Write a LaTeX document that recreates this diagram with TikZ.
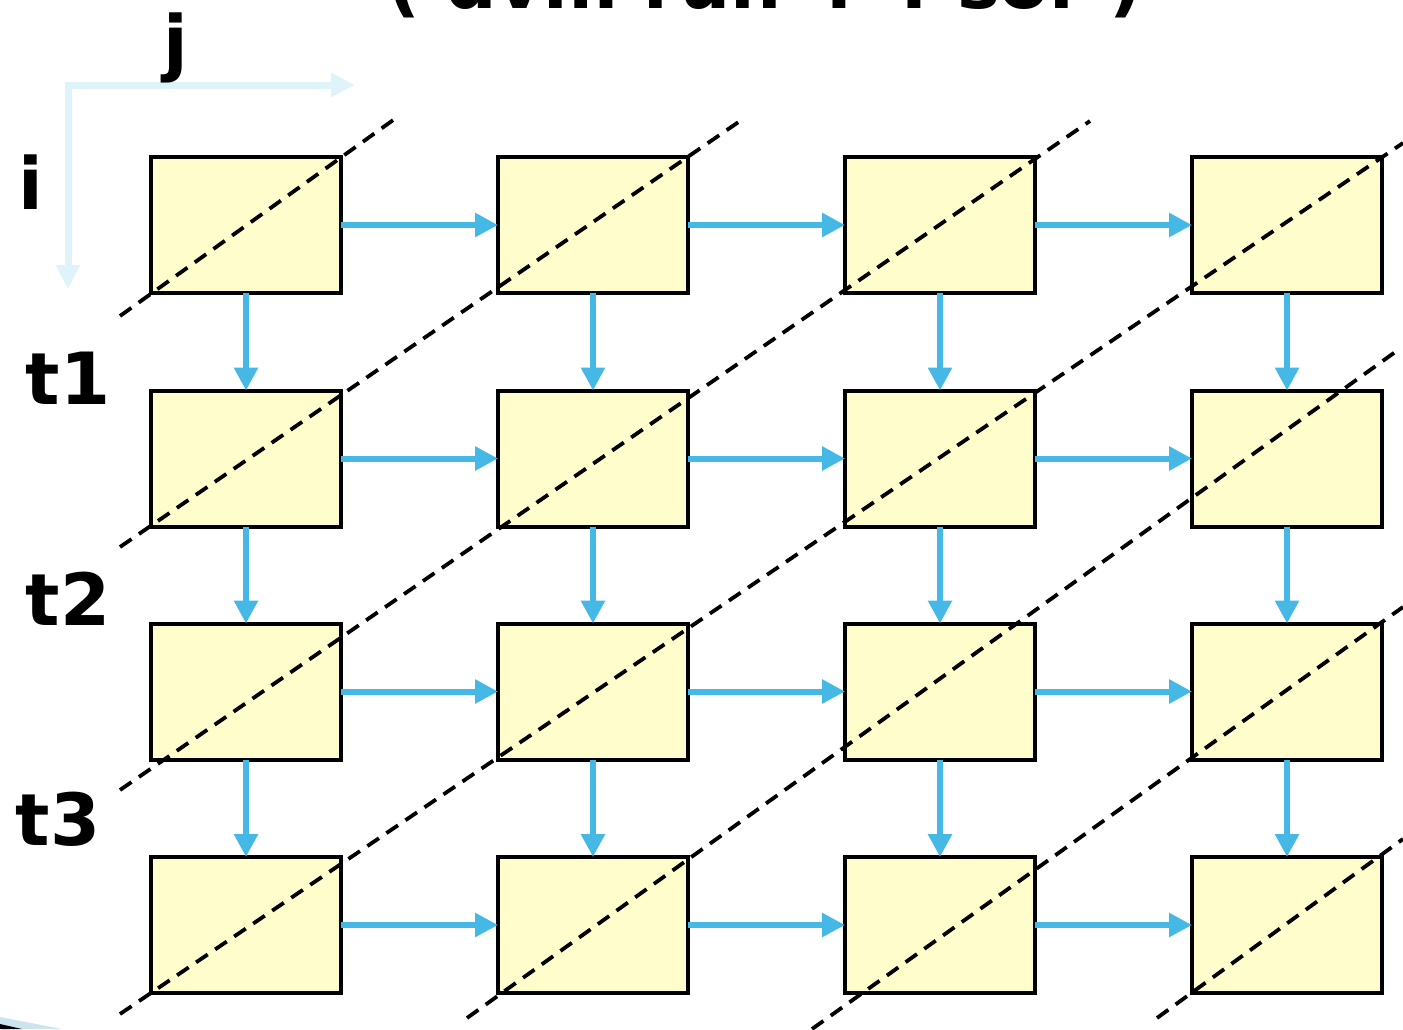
\documentclass[tikz,border=0pt]{standalone}
\usepackage{fontspec}
\setmainfont{DejaVu Sans}
\usetikzlibrary{arrows.meta}
\definecolor{boxfill}{RGB}{255,253,204}
\definecolor{flowblue}{RGB}{69,184,230}
\definecolor{axisblue}{RGB}{222,244,250}
\definecolor{edgeblue}{RGB}{205,228,238}
\begin{document}
\begin{tikzpicture}[x=1pt,y=-1pt,
  cell/.style={draw=black, line width=4pt, fill=boxfill, minimum width=190pt, minimum height=136pt, inner sep=0pt, outer sep=0pt},
  flow/.style={draw=flowblue, line width=6pt, -{Triangle[length=23pt,width=23pt]}},
  wave/.style={draw=black, line width=3.8pt, dash pattern=on 14pt off 9pt},
  axisline/.style={draw=axisblue, line width=7pt, {Triangle[length=24pt,width=23pt]}-{Triangle[length=24pt,width=23pt]}},
  lbl/.style={font=\fontsize{72}{80}\selectfont\bfseries, inner sep=0pt, anchor=base}]
\useasboundingbox (0,0) rectangle (1403,1029);

% edge artifact bottom-left
\fill[edgeblue] (0,1017) -- (62,1029) -- (0,1029) -- cycle;
\fill[black] (0,1024) -- (22,1029) -- (0,1029) -- cycle;

% title (cut off by top edge, as in the reference)
\node[lbl] (title) at (765,8) {( dvm run 4 4 sor )};

% axes
\coordinate (ax0) at (68,85);
\coordinate (axj) at (355,85);
\coordinate (axi) at (68,289);
\draw[axisline] (axj) -- (ax0) -- (axi);
\node[lbl] (lj) at (176,67) {j};
\node[lbl] (li) at (31,209) {i};
\node[lbl] (lt1) at (68,404) {t1};
\node[lbl] (lt2) at (68,625) {t2};
\node[lbl] (lt3) at (58,845) {t3};

% boxes
\foreach \r/\y in {1/225,2/458.5,3/691.5,4/925}{
  \foreach \c/\x in {1/246,2/593,3/940,4/1287}{
    \node[cell] (b\r\c) at (\x,\y) {};
  }
}

% horizontal arrows
\foreach \r in {1,2,3,4}{
  \draw[flow] (b\r1.east) -- (b\r2.west);
  \draw[flow] (b\r2.east) -- (b\r3.west);
  \draw[flow] (b\r3.east) -- (b\r4.west);
}
% vertical arrows
\foreach \c in {1,2,3,4}{
  \draw[flow] (b1\c.south) -- (b2\c.north);
  \draw[flow] (b2\c.south) -- (b3\c.north);
  \draw[flow] (b3\c.south) -- (b4\c.north);
}

% wavefront dashed lines
\coordinate (w1a) at (120,316); \coordinate (w1b) at (396,118);
\coordinate (w2a) at (120,547); \coordinate (w2b) at (740,121);
\coordinate (w3a) at (120,790); \coordinate (w3b) at (1090,121);
\coordinate (w4a) at (120,1014); \coordinate (w4b) at (1403,143);
\coordinate (w5a) at (467,1018); \coordinate (w5b) at (1398,350);
\coordinate (w6a) at (812,1029); \coordinate (w6b) at (1403,607);
\coordinate (w7a) at (1157,1018); \coordinate (w7b) at (1403,839);
\foreach \k in {1,...,7}{
  \draw[wave] (w\k a) -- (w\k b);
}
\end{tikzpicture}
\end{document}
